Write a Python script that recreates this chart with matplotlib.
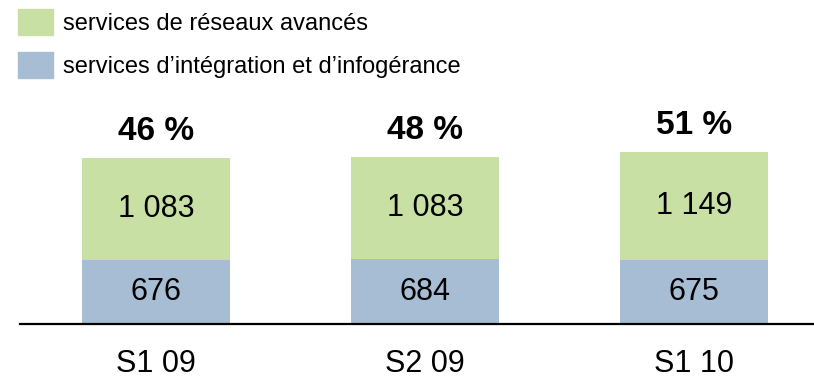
import matplotlib.pyplot as plt
from matplotlib.patches import Patch

plt.rcParams['font.family'] = ['Liberation Sans', 'DejaVu Sans']

periods = ["S1 09", "S2 09", "S1 10"]
integration = [676, 684, 675]
reseaux = [1083, 1083, 1149]
shares = ["46 %", "48 %", "51 %"]

green = "#c9e0a4"
blue = "#a6bdd3"

fig = plt.figure(figsize=(8.14, 3.82), dpi=100)
ax = fig.add_axes([0, 0, 1, 1])
ax.set_xlim(-0.58, 2.446)
ax.set_ylim(-615, 3434)
ax.axis("off")

x = range(len(periods))
w = 0.55
ax.bar(x, integration, width=w, color=blue, zorder=2)
ax.bar(x, reseaux, width=w, bottom=integration, color=green, zorder=2)
ax.axhline(0, xmin=20 / 814, xmax=1, color="black", lw=1.6, zorder=3)

for i in x:
    ax.text(i, integration[i] / 2, f"{integration[i]:,}".replace(",", " "),
            ha="center", va="center", fontsize=22)
    ax.text(i, integration[i] + reseaux[i] / 2, f"{reseaux[i]:,}".replace(",", " "),
            ha="center", va="center", fontsize=22)
    ax.annotate(shares[i], (i, integration[i] + reseaux[i]),
                xytext=(0, 19), textcoords="offset points", ha="center",
                va="center", fontsize=24, fontweight="bold")
    ax.annotate(periods[i], (i, 0), xytext=(0, -29), textcoords="offset points",
                ha="center", va="center", fontsize=22)

handles = [Patch(color=green), Patch(color=blue)]
labels = ["services de réseaux avancés", "services d’intégration et d’infogérance"]
fig.legend(handles, labels, loc="upper left", bbox_to_anchor=(0.0106, 1.0),
           frameon=False, fontsize=17, handlelength=1.48, handleheight=1.3,
           handletextpad=0.42, labelspacing=0.72, borderaxespad=0)

fig.savefig("out.png", dpi=100)
